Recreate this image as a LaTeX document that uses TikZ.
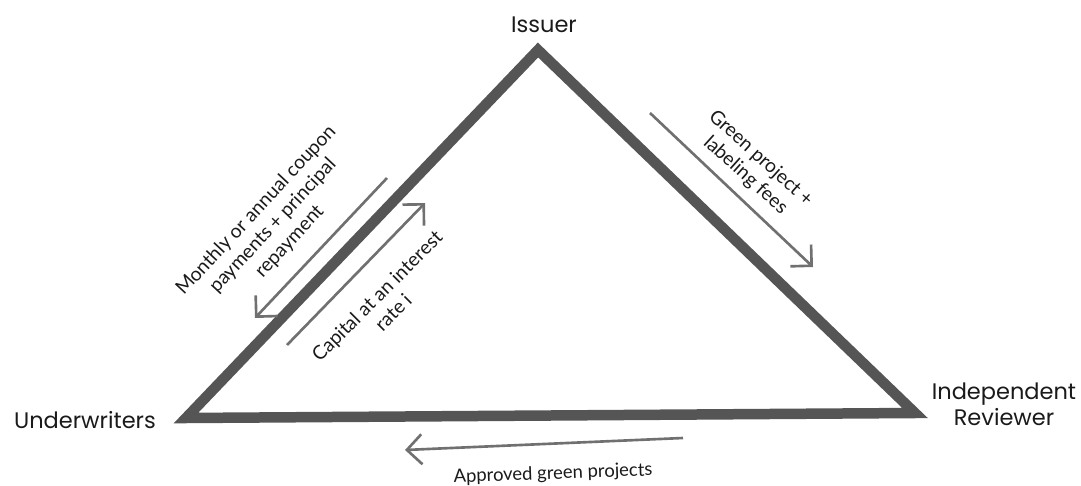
\documentclass[tikz,border=0pt]{standalone}
\usepackage{fontspec}
\setmainfont{Lato}
\newfontfamily\partyfont{Poppins}
\usetikzlibrary{arrows.meta}
\definecolor{edgegray}{HTML}{555555}
\definecolor{flowgray}{HTML}{707070}
\definecolor{textgray}{HTML}{1A1A1A}
\tikzset{
  flow/.style = {draw=flowgray, line width=1.5pt, -{Straight Barb[length=0.3cm, width=0.6cm, line width=1.5pt]}},
  party/.style = {font=\partyfont\fontsize{12.8}{15}\selectfont, text=textgray, align=center, inner sep=0pt},
  flowtext/.style = {font=\fontsize{11}{13}\selectfont, text=textgray, align=center, inner sep=0pt}
}

\begin{document}
\begin{tikzpicture}[x=0.02cm, y=-0.02cm]
\useasboundingbox (0,0) rectangle (1081,486);
\coordinate (issuer) at (538,50);
\coordinate (under) at (186,418);
\coordinate (review) at (915,413);
\draw [edgegray, line width=0.21cm, line join=miter] (issuer) -- (under) -- (review) -- cycle;

\node (issuerlabel) [party] at (544,25) {Issuer};
\node (underlabel) [party] at (85,420) {Underwriters};
\node (reviewlabel) [party] at (1004,404) {Independent\\Reviewer};

\coordinate (payfrom) at (387,178);
\coordinate (payto) at (255,318);
\draw [flow] (payfrom) -- (payto);
\node (paylabel) [flowtext, rotate=47] at (273,226) {Monthly or annual coupon\\payments + principal\\repayment};

\coordinate (capfrom) at (287,345);
\coordinate (capto) at (425,203);
\draw [flow] (capfrom) -- (capto);
\node (caplabel) [flowtext, rotate=45] at (385,304) {Capital at an interest\\rate i};

\coordinate (feefrom) at (650,113);
\coordinate (feeto) at (813,267);
\draw [flow] (feefrom) -- (feeto);
\node (feelabel) [flowtext, rotate=-42] at (753,167) {Green project +\\labeling fees};

\coordinate (projfrom) at (683,438);
\coordinate (projto) at (405,450);
\draw [flow] (projfrom) -- (projto);
\node (projlabel) [flowtext, font=\fontsize{10.5}{12.5}\selectfont, rotate=2] at (553,474) {Approved green projects};
\end{tikzpicture}
\end{document}
